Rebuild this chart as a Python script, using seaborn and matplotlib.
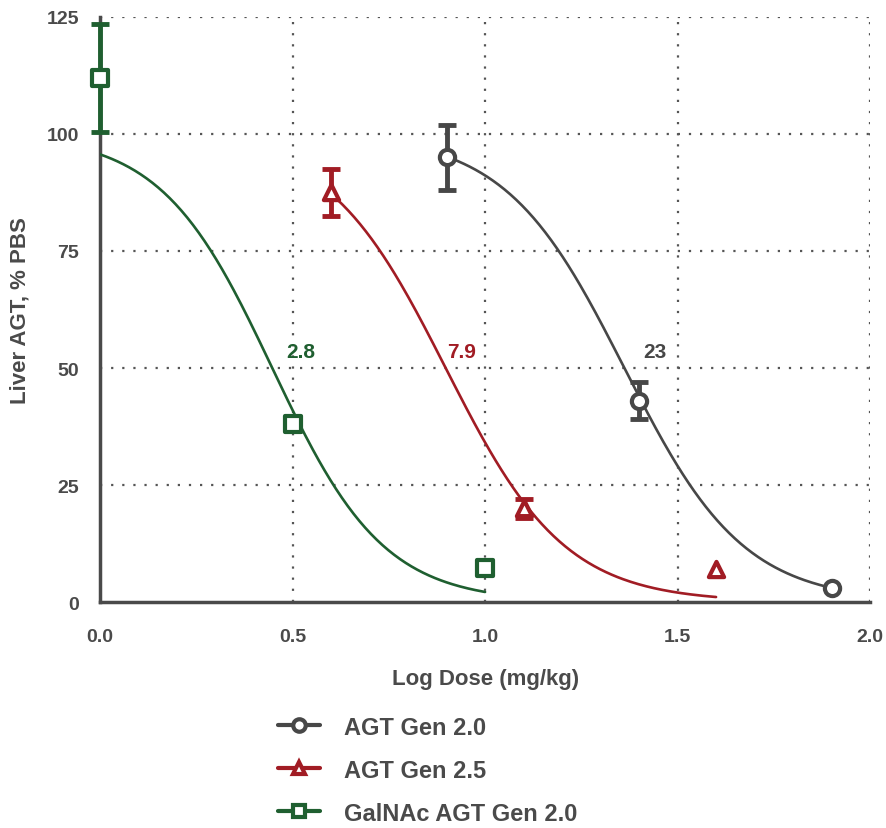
import numpy as np
import pandas as pd
import matplotlib
matplotlib.use("Agg")
import matplotlib.pyplot as plt
from matplotlib.lines import Line2D
import seaborn as sns

# Measured points (log dose, % PBS, error)
series_names = ["AGT Gen 2.0", "AGT Gen 2.5", "GalNAc AGT Gen 2.0"]
gen20_x = [0.9, 1.4, 1.9]
gen20_y = [95, 43, 3]
gen20_err = [7, 4, 0]
gen25_x = [0.6, 1.1, 1.6]
gen25_y = [87.5, 20, 7]
gen25_err = [5, 2, 0]
galnac_x = [0.0, 0.5, 1.0]
galnac_y = [112, 38, 7.3]
galnac_err = [11.5, 1.5, 0]

# Dose-response fit (top, bottom, log IC50, hill slope) and IC50 labels
fit_top = [100, 100, 100]
fit_bottom = [0, 0, 0]
fit_logic50 = [np.log10(23), np.log10(7.9), np.log10(2.8)]
fit_hill = [2.8, 2.8, 3.0]
fit_range = [(0.9, 1.9), (0.6, 1.6), (0.0, 1.0)]
ic50_labels = ["23", "7.9", "2.8"]
ic50_label_x = [1.44, 0.94, 0.52]
ic50_label_y = [53.5, 53.5, 53.5]

colors = ["#474747", "#a11c24", "#1f5f30"]
markers = ["o", "^", "s"]
text_col = "#4a4a4a"

sns.set_style("white")
plt.rcParams["font.family"] = ["Liberation Sans", "DejaVu Sans"]
plt.rcParams["font.weight"] = "bold"

fig = plt.figure(figsize=(8.86, 8.29), dpi=100)
ax = fig.add_axes([0.113, 0.2726, 0.869, 0.7057])

xs_all = [gen20_x, gen25_x, galnac_x]
ys_all = [gen20_y, gen25_y, galnac_y]
es_all = [gen20_err, gen25_err, galnac_err]

for i in range(3):
    lo, hi = fit_range[i]
    xx = np.linspace(lo, hi, 200)
    yy = fit_bottom[i] + (fit_top[i] - fit_bottom[i]) / (1 + 10 ** ((xx - fit_logic50[i]) * fit_hill[i]))
    curve = pd.DataFrame({"x": xx, "y": yy})
    sns.lineplot(data=curve, x="x", y="y", ax=ax, color=colors[i], lw=1.9, zorder=3)

    pts = pd.DataFrame({"x": xs_all[i], "y": ys_all[i], "err": es_all[i]})
    eb = pts[pts["err"] > 0]
    ax.errorbar(eb["x"], eb["y"], yerr=eb["err"], fmt="none", ecolor=colors[i],
                elinewidth=3.5, capsize=6.5, capthick=3.5, zorder=4, clip_on=False)
    sns.scatterplot(data=pts, x="x", y="y", ax=ax, marker=markers[i], s=120,
                    facecolor="white", edgecolor=colors[i], linewidth=3, zorder=5, clip_on=False)
    ax.text(ic50_label_x[i], ic50_label_y[i], ic50_labels[i], color=colors[i],
            fontsize=15, fontweight="bold", ha="center", va="center")

ax.set_xlim(0, 2.0)
ax.set_ylim(0, 125)
ax.set_xticks([0.0, 0.5, 1.0, 1.5, 2.0])
ax.set_xticklabels(["0.0", "0.5", "1.0", "1.5", "2.0"])
ax.set_yticks([0, 25, 50, 75, 100, 125])

for x in [0.5, 1.0, 1.5, 2.0]:
    ax.axvline(x, color="#555555", ls=(0, (1, 4)), lw=1.6, zorder=1)
for y in [25, 50, 75, 100, 125]:
    ax.axhline(y, color="#555555", ls=(0, (1, 4)), lw=1.6, zorder=1)

for s in ["top", "right"]:
    ax.spines[s].set_visible(False)
for s in ["left", "bottom"]:
    ax.spines[s].set_color(text_col)
    ax.spines[s].set_linewidth(2.5)
ax.tick_params(axis="both", direction="out", length=7, width=2.5, color=text_col,
               labelsize=14, labelcolor=text_col, pad=8)
ax.tick_params(axis="x", pad=12)
for lab in ax.get_xticklabels() + ax.get_yticklabels():
    lab.set_fontweight("bold")

ax.set_xlabel("Log Dose (mg/kg)", fontsize=16, fontweight="bold", color=text_col, labelpad=16)
ax.set_ylabel("Liver AGT, % PBS", fontsize=16, fontweight="bold", color=text_col, labelpad=12)

handles = [Line2D([0], [0], color=colors[i], lw=3, marker=markers[i], markersize=9,
                  markerfacecolor="white", markeredgewidth=3) for i in range(3)]
fig.legend(handles, series_names, loc="upper left", bbox_to_anchor=(0.303, 0.147),
           frameon=False, handlelength=1.8, labelspacing=0.85, handletextpad=1.0,
           prop={"weight": "bold", "size": 17}, labelcolor=text_col, borderaxespad=0)

fig.savefig("out.png", dpi=100)
